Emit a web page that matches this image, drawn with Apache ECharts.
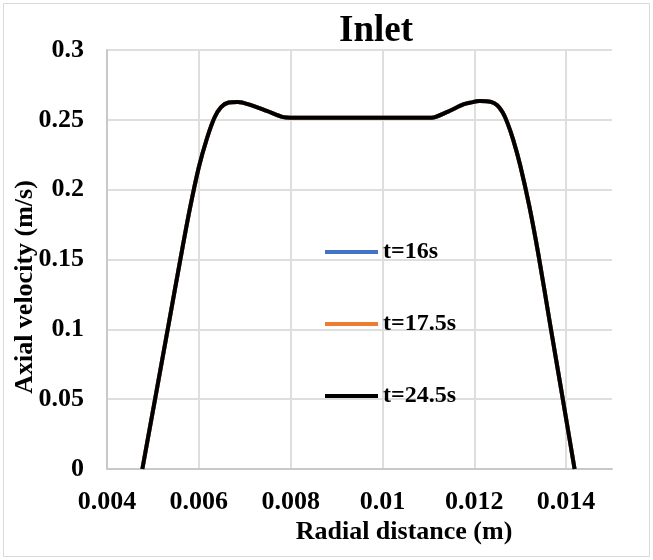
<!DOCTYPE html>
<html>
<head>
<meta charset="utf-8">
<title>Inlet</title>
<script src="https://cdn.jsdelivr.net/npm/echarts@6/dist/echarts.min.js"></script>
<style>
  html, body { margin: 0; padding: 0; background: #ffffff; }
  #chart { width: 653px; height: 560px; }
</style>
</head>
<body>
<div id="chart"></div>
<script>
// Radial positions (m) along the inlet section
const radialDistance = [
  0.00477, 0.00505, 0.00535, 0.00560, 0.00580, 0.00600, 0.00618, 0.00634,
  0.00648, 0.00665, 0.00685, 0.00712, 0.00748, 0.00784, 0.00800, 0.00900,
  0.01000, 0.01090, 0.01107, 0.01140, 0.01176, 0.01190, 0.01212, 0.01235,
  0.01250, 0.01262, 0.01272, 0.01285, 0.01300, 0.01320, 0.01340, 0.01365,
  0.01390, 0.014185
];
// Axial velocity (m/s) at each time step
const velocityT16 = [
  0, 0.0506, 0.1050, 0.1505, 0.1855, 0.2160, 0.2370, 0.2515,
  0.2590, 0.2624, 0.2628, 0.2607, 0.2564, 0.2519, 0.2515, 0.2515,
  0.2515, 0.2515, 0.2515, 0.2555, 0.2610, 0.2622, 0.2634, 0.2630,
  0.2605, 0.2552, 0.2480, 0.2355, 0.2175, 0.1880, 0.1530, 0.1040,
  0.0556, 0
];
const velocityT175 = [
  0, 0.0506, 0.1050, 0.1505, 0.1855, 0.2160, 0.2370, 0.2515,
  0.2590, 0.2624, 0.2628, 0.2607, 0.2564, 0.2519, 0.2515, 0.2515,
  0.2515, 0.2515, 0.2515, 0.2555, 0.2610, 0.2622, 0.2634, 0.2630,
  0.2605, 0.2552, 0.2480, 0.2355, 0.2175, 0.1880, 0.1530, 0.1040,
  0.0556, 0
];
const velocityT245 = [
  0, 0.0506, 0.1050, 0.1505, 0.1855, 0.2160, 0.2370, 0.2515,
  0.2590, 0.2624, 0.2628, 0.2607, 0.2564, 0.2519, 0.2515, 0.2515,
  0.2515, 0.2515, 0.2515, 0.2555, 0.2610, 0.2622, 0.2634, 0.2630,
  0.2605, 0.2552, 0.2480, 0.2355, 0.2175, 0.1880, 0.1530, 0.1040,
  0.0556, 0
];
const seriesNames = ['t=16s', 't=17.5s', 't=24.5s'];
const seriesColors = ['#4472C4', '#ED7D31', '#000000'];

const FONT = '"Liberation Serif", "Times New Roman", serif';

function pairs(ys) {
  return radialDistance.map((x, i) => [x, ys[i]]);
}

const chart = echarts.init(document.getElementById('chart'), null, { renderer: 'canvas' });

const legendTops = [240, 312, 384];
const option = {
  backgroundColor: '#ffffff',
  animation: false,
  title: {
    text: 'Inlet',
    left: 371,
    top: 8,
    textAlign: 'center',
    textStyle: { fontFamily: FONT, fontWeight: 'bold', fontSize: 37, color: '#000' }
  },
  legend: seriesNames.map((name, i) => ({
    data: [name],
    left: 325,
    top: legendTops[i],
    padding: 0,
    itemWidth: 53,
    itemHeight: 4,
    itemGap: 4,
    icon: 'rect',
    textStyle: { fontFamily: FONT, fontWeight: 'bold', fontSize: 24, color: '#000' }
  })),
  grid: { left: 107, right: 41, top: 50, bottom: 91, containLabel: false },
  xAxis: {
    type: 'value',
    min: 0.004,
    max: 0.015,
    interval: 0.002,
    axisLine: { show: true, lineStyle: { color: '#c8c8c8', width: 2 } },
    axisTick: { show: false },
    axisLabel: {
      showMaxLabel: false,
      margin: 20,
      fontFamily: FONT, fontWeight: 'bold', fontSize: 26, color: '#000'
    },
    splitLine: { show: true, showMaxLine: false, lineStyle: { color: '#dedede', width: 2 } }
  },
  yAxis: {
    type: 'value',
    min: 0,
    max: 0.3,
    interval: 0.05,
    axisLine: { show: true, lineStyle: { color: '#c8c8c8', width: 2 } },
    axisTick: { show: false },
    axisLabel: {
      margin: 23,
      fontFamily: FONT, fontWeight: 'bold', fontSize: 26, color: '#000'
    },
    splitLine: { show: true, lineStyle: { color: '#dedede', width: 2 } }
  },
  graphic: [
    {
      type: 'rect',
      silent: true,
      z: -10,
      shape: { x: 3.5, y: 3.5, width: 646, height: 553 },
      style: { fill: 'none', stroke: '#d9d9d9', lineWidth: 1 }
    },
    {
      type: 'text',
      x: 404, y: 532,
      style: {
        text: 'Radial distance (m)',
        fontFamily: FONT, fontWeight: 'bold', fontSize: 26, fill: '#000',
        textAlign: 'center', textVerticalAlign: 'middle'
      }
    },
    {
      type: 'text',
      x: 25, y: 287,
      rotation: Math.PI / 2,
      style: {
        text: 'Axial velocity (m/s)',
        fontFamily: FONT, fontWeight: 'bold', fontSize: 26, fill: '#000',
        textAlign: 'center', textVerticalAlign: 'middle'
      }
    }
  ],
  series: [velocityT16, velocityT175, velocityT245].map((ys, i) => ({
    name: seriesNames[i],
    type: 'line',
    data: pairs(ys),
    smooth: 0.3,
    showSymbol: false,
    symbol: 'none',
    itemStyle: { color: seriesColors[i] },
    lineStyle: { color: seriesColors[i], width: 4 },
    z: 2 + i
  }))
};

chart.setOption(option);
</script>
</body>
</html>
